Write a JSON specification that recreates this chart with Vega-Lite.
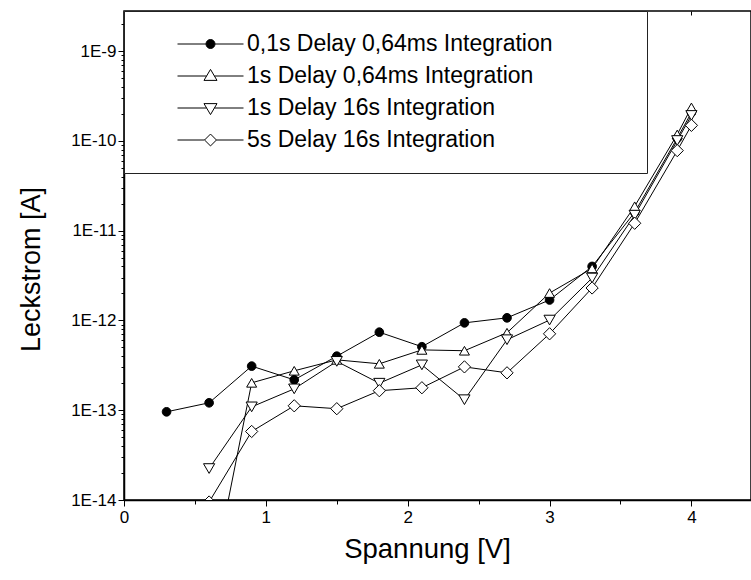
{
  "$schema": "https://vega.github.io/schema/vega-lite/v6.json",
  "width": 627,
  "height": 489,
  "autosize": {"type": "none"},
  "padding": {"left": 124, "top": 11, "right": 0, "bottom": 80},
  "background": "white",
  "config": {
    "font": "Liberation Sans",
    "view": {"stroke": "black", "strokeWidth": 1.5},
    "axis": {"grid": false, "domainColor": "black", "domainWidth": 1.5, "tickColor": "black", "tickWidth": 1, "labelColor": "black", "titleColor": "black", "labelFont": "Liberation Sans", "titleFont": "Liberation Sans", "labelFontSize": 17, "titleFontSize": 27, "titleFontWeight": "normal", "labelFlush": false, "labelOverlap": false, "labelBound": false}
  },
  "data": {"values": [
    {"s": "0,1s Delay 0,64ms Integration", "v": 0.3, "i": 9.6e-14},
    {"s": "0,1s Delay 0,64ms Integration", "v": 0.6, "i": 1.21e-13},
    {"s": "0,1s Delay 0,64ms Integration", "v": 0.9, "i": 3.1e-13},
    {"s": "0,1s Delay 0,64ms Integration", "v": 1.2, "i": 2.18e-13},
    {"s": "0,1s Delay 0,64ms Integration", "v": 1.5, "i": 4.0e-13},
    {"s": "0,1s Delay 0,64ms Integration", "v": 1.8, "i": 7.4e-13},
    {"s": "0,1s Delay 0,64ms Integration", "v": 2.1, "i": 5.1e-13},
    {"s": "0,1s Delay 0,64ms Integration", "v": 2.4, "i": 9.4e-13},
    {"s": "0,1s Delay 0,64ms Integration", "v": 2.7, "i": 1.07e-12},
    {"s": "0,1s Delay 0,64ms Integration", "v": 3.0, "i": 1.69e-12},
    {"s": "0,1s Delay 0,64ms Integration", "v": 3.3, "i": 4.0e-12},
    {"s": "0,1s Delay 0,64ms Integration", "v": 3.6, "i": 1.6e-11},
    {"s": "0,1s Delay 0,64ms Integration", "v": 3.9, "i": 1.07e-10},
    {"s": "0,1s Delay 0,64ms Integration", "v": 4.0, "i": 2.07e-10},
    {"s": "1s Delay 0,64ms Integration", "v": 0.6, "i": 8.5e-16},
    {"s": "1s Delay 0,64ms Integration", "v": 0.9, "i": 2.02e-13},
    {"s": "1s Delay 0,64ms Integration", "v": 1.2, "i": 2.75e-13},
    {"s": "1s Delay 0,64ms Integration", "v": 1.5, "i": 3.64e-13},
    {"s": "1s Delay 0,64ms Integration", "v": 1.8, "i": 3.29e-13},
    {"s": "1s Delay 0,64ms Integration", "v": 2.1, "i": 4.7e-13},
    {"s": "1s Delay 0,64ms Integration", "v": 2.4, "i": 4.6e-13},
    {"s": "1s Delay 0,64ms Integration", "v": 2.7, "i": 7.3e-13},
    {"s": "1s Delay 0,64ms Integration", "v": 3.0, "i": 2.02e-12},
    {"s": "1s Delay 0,64ms Integration", "v": 3.3, "i": 3.8e-12},
    {"s": "1s Delay 0,64ms Integration", "v": 3.6, "i": 1.87e-11},
    {"s": "1s Delay 0,64ms Integration", "v": 3.9, "i": 1.18e-10},
    {"s": "1s Delay 0,64ms Integration", "v": 4.0, "i": 2.36e-10},
    {"s": "1s Delay 16s Integration", "v": 0.6, "i": 2.24e-14},
    {"s": "1s Delay 16s Integration", "v": 0.9, "i": 1.09e-13},
    {"s": "1s Delay 16s Integration", "v": 1.2, "i": 1.73e-13},
    {"s": "1s Delay 16s Integration", "v": 1.5, "i": 3.5e-13},
    {"s": "1s Delay 16s Integration", "v": 1.8, "i": 2.0e-13},
    {"s": "1s Delay 16s Integration", "v": 2.1, "i": 3.2e-13},
    {"s": "1s Delay 16s Integration", "v": 2.4, "i": 1.31e-13},
    {"s": "1s Delay 16s Integration", "v": 2.7, "i": 6.1e-13},
    {"s": "1s Delay 16s Integration", "v": 3.0, "i": 1.01e-12},
    {"s": "1s Delay 16s Integration", "v": 3.3, "i": 2.97e-12},
    {"s": "1s Delay 16s Integration", "v": 3.6, "i": 1.49e-11},
    {"s": "1s Delay 16s Integration", "v": 3.9, "i": 1.01e-10},
    {"s": "1s Delay 16s Integration", "v": 4.0, "i": 1.92e-10},
    {"s": "5s Delay 16s Integration", "v": 0.6, "i": 9.5e-15},
    {"s": "5s Delay 16s Integration", "v": 0.9, "i": 5.8e-14},
    {"s": "5s Delay 16s Integration", "v": 1.2, "i": 1.12e-13},
    {"s": "5s Delay 16s Integration", "v": 1.5, "i": 1.04e-13},
    {"s": "5s Delay 16s Integration", "v": 1.8, "i": 1.65e-13},
    {"s": "5s Delay 16s Integration", "v": 2.1, "i": 1.78e-13},
    {"s": "5s Delay 16s Integration", "v": 2.4, "i": 3.04e-13},
    {"s": "5s Delay 16s Integration", "v": 2.7, "i": 2.61e-13},
    {"s": "5s Delay 16s Integration", "v": 3.0, "i": 7.1e-13},
    {"s": "5s Delay 16s Integration", "v": 3.3, "i": 2.3e-12},
    {"s": "5s Delay 16s Integration", "v": 3.6, "i": 1.21e-11},
    {"s": "5s Delay 16s Integration", "v": 3.9, "i": 7.8e-11},
    {"s": "5s Delay 16s Integration", "v": 4.0, "i": 1.49e-10}
  ]},
  "encoding": {
    "y": {"field": "i", "type": "quantitative",
      "scale": {"type": "log", "domain": [1e-14, 2.8e-9], "nice": false},
      "axis": {"title": "Leckstrom [A]",
        "values": [1e-14, 2e-14, 3e-14, 4e-14, 5e-14, 6e-14, 7e-14, 8e-14, 9e-14, 1e-13, 2e-13, 3e-13, 4e-13, 5e-13, 6e-13, 7e-13, 8e-13, 9e-13, 1e-12, 2e-12, 3e-12, 4e-12, 5e-12, 6e-12, 7e-12, 8e-12, 9e-12, 1e-11, 2e-11, 3e-11, 4e-11, 5e-11, 6e-11, 7e-11, 8e-11, 9e-11, 1e-10, 2e-10, 3e-10, 4e-10, 5e-10, 6e-10, 7e-10, 8e-10, 9e-10, 1e-9, 2e-9],
        "labelExpr": "abs(log(datum.value)/LN10 - round(log(datum.value)/LN10)) < 0.001 ? '1E' + round(log(datum.value)/LN10) : ''",
        "tickSize": {"condition": {"test": "abs(log(datum.value)/LN10 - round(log(datum.value)/LN10)) < 0.001", "value": 6}, "value": 3},
        "labelPadding": 2, "titleAngle": -90, "titleX": -85, "titleY": 258, "titleAlign": "center", "titleBaseline": "alphabetic", "titleAnchor": null}}
  },
  "layer": [
    {
      "mark": {"type": "line", "color": "black", "strokeWidth": 1, "clip": true},
      "encoding": {
        "x": {"field": "v", "type": "quantitative",
          "scale": {"domain": [0, 4.42], "nice": false, "zero": false},
          "axis": {"title": "Spannung [V]", "titleFontSize": 27.5, "values": [0, 0.5, 1, 1.5, 2, 2.5, 3, 3.5, 4],
            "labelExpr": "datum.value % 1 == 0 ? format(datum.value, 'd') : ''",
            "tickSize": {"condition": {"test": "datum.value % 1 == 0", "value": 6}, "value": 4},
            "labelPadding": 3, "titleX": 303, "titleY": 57, "titleBaseline": "alphabetic", "titleAnchor": null}},
        "detail": {"field": "s"}
      }
    },
    {
      "mark": {"type": "point", "stroke": "black", "strokeWidth": 1, "opacity": 1, "fillOpacity": 1, "clip": true},
      "encoding": {
        "x": {"field": "v", "type": "quantitative", "axis": null},
        "shape": {"field": "s", "type": "nominal", "legend": null,
          "scale": {"domain": ["0,1s Delay 0,64ms Integration", "1s Delay 0,64ms Integration", "1s Delay 16s Integration", "5s Delay 16s Integration"], "range": ["circle", "triangle-up", "triangle-down", "diamond"]}},
        "fill": {"field": "s", "type": "nominal", "legend": null,
          "scale": {"domain": ["0,1s Delay 0,64ms Integration", "1s Delay 0,64ms Integration", "1s Delay 16s Integration", "5s Delay 16s Integration"], "range": ["black", "white", "white", "white"]}},
        "size": {"field": "s", "type": "nominal", "legend": null,
          "scale": {"domain": ["0,1s Delay 0,64ms Integration", "1s Delay 0,64ms Integration", "1s Delay 16s Integration", "5s Delay 16s Integration"], "range": [75, 150, 150, 130]}}
      }
    },
    {
      "mark": {"type": "point", "opacity": 0, "stroke": "black"},
      "encoding": {
        "x": {"field": "v", "type": "quantitative",
          "axis": {"orient": "top", "labels": false, "title": null, "domain": false, "values": [0, 0.5, 1, 1.5, 2, 2.5, 3, 3.5, 4], "tickSize": -4}},
        "shape": {"field": "s", "type": "nominal",
          "scale": {"domain": ["0,1s Delay 0,64ms Integration", "1s Delay 0,64ms Integration", "1s Delay 16s Integration", "5s Delay 16s Integration"],
            "range": [
              "M-1,0L-0.13,0M0.13,0L1,0M0.136,0A0.136,0.136,0,1,1,-0.136,0A0.136,0.136,0,1,1,0.136,0Z",
              "M-1,0L-0.12,0M0.12,0L1,0M0,-0.2L0.197,0.133L-0.197,0.133Z",
              "M-1,0L-0.12,0M0.12,0L1,0M0,0.2L0.197,-0.133L-0.197,-0.133Z",
              "M-1,0L-0.18,0M0.18,0L1,0M0,-0.18L0.18,0L0,0.18L-0.18,0Z"
            ]},
          "legend": {"title": null, "orient": "none", "legendX": 0, "legendY": 0, "padding": 17, "clipHeight": 32, "rowPadding": 0, "symbolOffset": 36, "labelOffset": 3, "symbolSize": 4356, "symbolStrokeWidth": 1, "symbolStrokeColor": "black", "symbolOpacity": 1, "strokeColor": "#222", "fillColor": "white", "labelFont": "Liberation Sans", "labelFontSize": 23, "labelColor": "black", "labelLimit": 0,
            "labelExpr": "datum.label + '\u00a0\u00a0\u00a0\u00a0\u00a0\u00a0\u00a0\u00a0\u00a0\u00a0\u00a0\u00a0\u200b'",
            "encode": {"symbols": {"update": {"stroke": {"value": "black"}, "strokeWidth": {"value": 1}, "opacity": {"value": 1}}}}}},
        "fill": {"field": "s", "type": "nominal",
          "scale": {"domain": ["0,1s Delay 0,64ms Integration", "1s Delay 0,64ms Integration", "1s Delay 16s Integration", "5s Delay 16s Integration"], "range": ["black", "white", "white", "white"]},
          "legend": {"title": null, "orient": "none", "legendX": 0, "legendY": 0, "padding": 17, "clipHeight": 32, "rowPadding": 0, "symbolOffset": 36, "labelOffset": 3, "symbolSize": 4356, "symbolStrokeWidth": 1, "symbolStrokeColor": "black", "symbolOpacity": 1, "strokeColor": "#222", "fillColor": "white", "labelFont": "Liberation Sans", "labelFontSize": 23, "labelColor": "black", "labelLimit": 0,
            "labelExpr": "datum.label + '\u00a0\u00a0\u00a0\u00a0\u00a0\u00a0\u00a0\u00a0\u00a0\u00a0\u00a0\u00a0\u200b'",
            "encode": {"symbols": {"update": {"stroke": {"value": "black"}, "strokeWidth": {"value": 1}, "opacity": {"value": 1}}}}}}
      }
    }
  ],
  "resolve": {"scale": {"shape": "independent", "fill": "independent", "size": "independent"}, "axis": {"x": "independent"}}
}
